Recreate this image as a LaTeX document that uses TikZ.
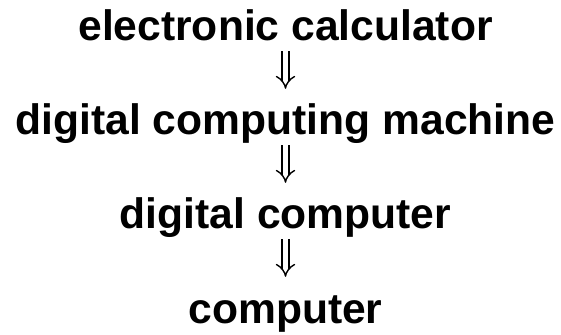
\documentclass[tikz,border=0pt]{standalone}
\usepackage{fontspec}
\setmainfont{Liberation Sans}
\usetikzlibrary{arrows.meta}
\tikzset{
  term/.style={anchor=base, inner sep=0pt, text height=30pt, text depth=9pt,
    font=\fontsize{42.6}{50}\selectfont\bfseries},
  becomes/.style={double, double distance=5.4pt, line width=1.4pt,
    -{Implies[length=9pt, width=19pt]}, shorten <=1pt, shorten >=16pt}
}
\begin{document}
\begin{tikzpicture}[x=1pt, y=1pt]
  \useasboundingbox (0,0) rectangle (561,334);
  % four terms, one below the other, linked by double arrows
  \node[term] (c1) at (285.5,293) {electronic calculator};
  \node[term] (c2) at (285.5,199) {digital computing machine};
  \node[term] (c3) at (285.5,105) {digital computer};
  \node[term] (c4) at (285.5,11)  {computer};
  \draw[becomes] (c1.south) -- (c2.north);
  \draw[becomes] (c2.south) -- (c3.north);
  \draw[becomes] (c3.south) -- (c4.north);
\end{tikzpicture}
\end{document}
